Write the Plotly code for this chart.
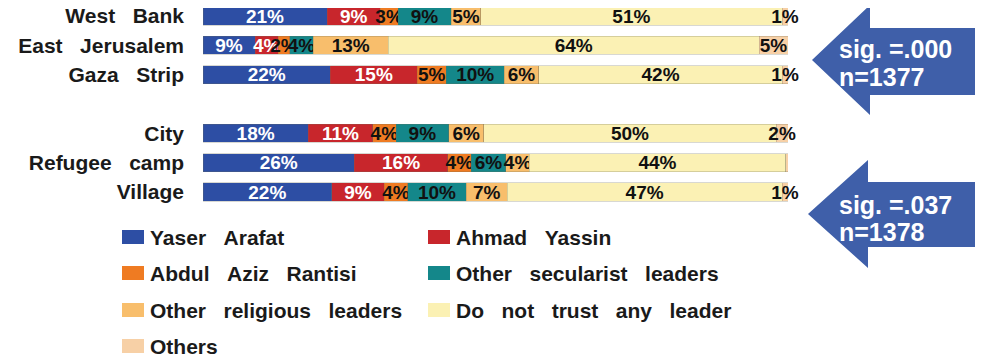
import plotly.graph_objects as go

# ---------------- data ----------------
SP = "\u00a0\u00a0\u00a0"
rows = ["West" + SP + "Bank", "East" + SP + "Jerusalem", "Gaza" + SP + "Strip",
        "City", "Refugee" + SP + "camp", "Village"]
spacer = " "
category_order = rows[:3] + [spacer] + rows[3:]

series_names = ["Yaser" + SP + "Arafat", "Ahmad" + SP + "Yassin", "Abdul" + SP + "Aziz" + SP + "Rantisi",
                "Other" + SP + "secularist" + SP + "leaders", "Other" + SP + "religious" + SP + "leaders",
                "Do" + SP + "not" + SP + "trust" + SP + "any" + SP + "leader", "Others"]

yaser_arafat = [21, 9, 22, 18, 26, 22]
ahmad_yassin = [9, 4, 15, 11, 16, 9]
rantisi = [3, 2, 5, 4, 4, 4]
other_secular = [9, 4, 10, 9, 6, 10]
other_religious = [5, 13, 6, 6, 4, 7]
no_trust = [51, 64, 42, 50, 44, 47]
others = [1, 5, 1, 2, 0.4, 1]
others_labels = ["1%", "5%", "1%", "2%", "", "1%"]

series_values = [yaser_arafat, ahmad_yassin, rantisi, other_secular, other_religious, no_trust, others]
colors = ["#2D4EA4", "#C8262C", "#EF7B22", "#14878A", "#F8BE6C", "#FBF1B4", "#F7D0A6"]
text_colors = ["white", "white", "#111111", "#111111", "#111111", "#111111", "#111111"]

arrow_texts = [("sig. =.000", "n=1377"), ("sig. =.037", "n=1378")]

# ---------------- layout constants ----------------
OFF = 8                      # page body margin of the html page
W, H = 983 - OFF, 358 - OFF  # figure size
FONT = "Liberation Sans, Arial, sans-serif"

# reference-pixel geometry of the bar area
BAR_LEFT, BAR_RIGHT = 203, 788
ROW0_Y, ROW6_Y = 16, 192

ML = BAR_LEFT - OFF
MR = W - (BAR_RIGHT - OFF)
MT = 0
PLOT_BOTTOM = ROW6_Y + 15 - OFF
MB = H - PLOT_BOTTOM
PW, PH = W - ML - MR, H - MT - MB
unit = (ROW6_Y - ROW0_Y) / 6.0
top_index = 0 - ((ROW0_Y - OFF) - MT) / unit
bottom_index = 6 + (PLOT_BOTTOM - (ROW6_Y - OFF)) / unit


def px(x):
    return (x - OFF - ML) / PW


def py(y):
    return (H - MB - (y - OFF)) / PH


fig = go.Figure()
for name, vals, col, tcol in zip(series_names, series_values, colors, text_colors):
    labels = others_labels if vals is others else [f"{v:g}%" for v in vals]
    fig.add_trace(go.Bar(
        y=rows, x=vals, name=name, orientation="h",
        marker=dict(color=col, line=dict(color="rgba(110,110,90,0.45)", width=0.6)),
        text=labels, textposition="inside", insidetextanchor="middle", textangle=0,
        constraintext="none", cliponaxis=False,
        textfont=dict(family=FONT, size=19, color=tcol, weight="bold"),
        width=0.62, showlegend=False, hoverinfo="skip",
    ))

fig.update_layout(
    barmode="stack", barnorm="percent",
    width=W, height=H, margin=dict(l=ML, r=MR, t=MT, b=MB, autoexpand=False),
    paper_bgcolor="white", plot_bgcolor="white",
    font=dict(family=FONT),
    xaxis=dict(range=[0, 100], visible=False, fixedrange=True),
    yaxis=dict(type="category", categoryorder="array", categoryarray=category_order,
               range=[bottom_index, top_index], showgrid=False, zeroline=False, showline=False,
               ticks="", ticklabelstandoff=18, automargin=False,
               tickfont=dict(family=FONT, size=21, color="#1a1a1a", weight="bold")),
)

# ---------------- manual legend ----------------
shapes = []
annotations = []
leg_cols = [(122, 148), (428, 454)]
leg_rows = [237, 273, 310, 346]
for i, (name, col) in enumerate(zip(series_names, colors)):
    mx, tx = leg_cols[i % 2]
    cy = leg_rows[i // 2]
    shapes.append(dict(type="rect", xref="paper", yref="paper",
                       x0=px(mx), x1=px(mx + 22), y0=py(cy + 7), y1=py(cy - 7),
                       fillcolor=col, line=dict(width=0)))
    annotations.append(dict(xref="paper", yref="paper", x=px(tx), y=py(cy),
                            xanchor="left", yanchor="middle", showarrow=False,
                            text=name, font=dict(family=FONT, size=21, color="#1a1a1a", weight="bold")))

# ---------------- arrows ----------------
arrow_geo = [
    dict(tip=(812, 60), head_x=870, head_top=5, head_bot=115, body_top=28, body_bot=95, t1=49, t2=77),
    dict(tip=(808, 214), head_x=868, head_top=160, head_bot=268, body_top=182, body_bot=247, t1=205, t2=232),
]
for g, (l1, l2) in zip(arrow_geo, arrow_texts):
    tx, ty = g["tip"]
    pts = [(tx, ty), (g["head_x"], g["head_top"]), (g["head_x"], g["body_top"]), (990, g["body_top"]),
           (990, g["body_bot"]), (g["head_x"], g["body_bot"]), (g["head_x"], g["head_bot"])]
    path = "M " + " L ".join(f"{px(x):.5f},{py(y):.5f}" for x, y in pts) + " Z"
    shapes.append(dict(type="path", xref="paper", yref="paper", path=path,
                       fillcolor="#3F5FA9", line=dict(width=0)))
    for txt, yy in ((l1, g["t1"]), (l2, g["t2"])):
        annotations.append(dict(xref="paper", yref="paper", x=px(837), y=py(yy),
                                xanchor="left", yanchor="middle", showarrow=False, text=txt,
                                font=dict(family=FONT, size=25, color="white", weight="bold")))

fig.update_layout(shapes=shapes, annotations=annotations)
fig.write_html("out.html")
